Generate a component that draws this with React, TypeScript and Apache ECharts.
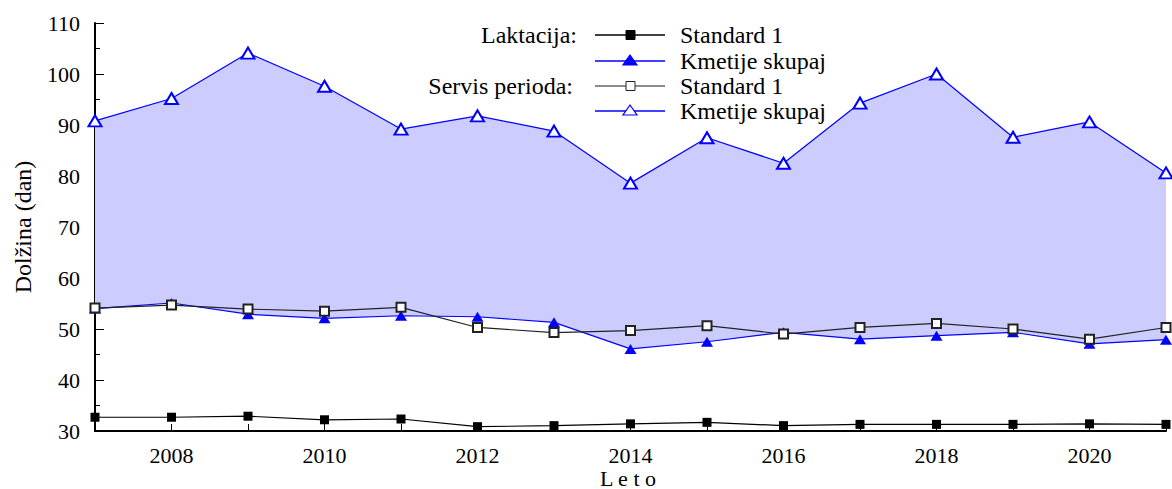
import React, { useEffect, useRef } from "react";
import * as echarts from "echarts";

const years = ["2007","2008","2009","2010","2011","2012","2013","2014","2015","2016","2017","2018","2019","2020","2021"];
const lakStandard = [32.7, 32.7, 32.9, 32.2, 32.35, 30.85, 31.05, 31.4, 31.7, 31.05, 31.3, 31.3, 31.3, 31.4, 31.3];
const lakKmetije = [54.0, 55.1, 52.9, 52.1, 52.6, 52.4, 51.3, 46.1, 47.5, 49.35, 48.0, 48.7, 49.35, 47.1, 47.9];
const serStandard = [54.1, 54.7, 53.9, 53.5, 54.25, 50.3, 49.3, 49.7, 50.65, 49.0, 50.3, 51.1, 50.0, 48.0, 50.3];
const serKmetije = [90.8, 95.2, 104.1, 97.6, 89.2, 91.8, 88.8, 78.6, 87.5, 82.5, 94.3, 100.0, 87.6, 90.6, 80.6];

const FONT = '"Liberation Serif", "Times New Roman", serif';
const BLUE = "#0000ff";

export default function App() {
  const ref = useRef<HTMLDivElement>(null);
  useEffect(() => {
    if (!ref.current) return;
    const chart = echarts.init(ref.current, undefined, { renderer: "svg" });
    const bandDiff = serKmetije.map((v, i) => +(v - lakKmetije[i]).toFixed(3));

    const legendRow = (y: number, color: string, marker: any[], label: string) => [
      { type: "line", shape: { x1: 595, y1: y, x2: 665, y2: y }, style: { stroke: color, lineWidth: 1.5 } },
      ...marker,
      {
        type: "text", x: 680, y,
        style: { text: label, font: `24px ${FONT}`, fill: "#000", textAlign: "left", textVerticalAlign: "middle" },
      },
    ];
    const sq = (y: number, filled: boolean, color: string) => ({
      type: "rect", shape: { x: 626, y: y - 4.5, width: 9, height: 9 },
      style: { fill: filled ? color : "#fff", stroke: color, lineWidth: 1 },
    });
    const tri = (y: number, filled: boolean, w: number, h: number) => ({
      type: "polygon",
      shape: { points: [[630, y - h / 2 - 1], [630 + w / 2, y + h / 2 - 1], [630 - w / 2, y + h / 2 - 1]] },
      style: { fill: filled ? BLUE : "#fff", stroke: BLUE, lineWidth: 1.2 },
    });

    chart.setOption({
      animation: false,
      grid: { left: 95, right: 6, top: 23, bottom: 58, containLabel: false },
      xAxis: {
        type: "category",
        data: years,
        boundaryGap: false,
        axisLine: { show: true, lineStyle: { color: "#000", width: 2 } },
        axisTick: { show: true, inside: true, length: 7, interval: 0, lineStyle: { color: "#000", width: 1 } },
        axisLabel: {
          interval: 0,
          margin: 13,
          fontFamily: FONT,
          fontSize: 22,
          color: "#000",
          formatter: (v: string) => (parseInt(v, 10) % 2 === 0 ? v : ""),
        },
        splitLine: { show: false },
      },
      yAxis: {
        type: "value",
        min: 30,
        max: 110,
        interval: 10,
        axisLine: { show: true, lineStyle: { color: "#000", width: 2 } },
        axisTick: { show: true, inside: true, length: 9, lineStyle: { color: "#000", width: 1 } },
        minorTick: { show: true, splitNumber: 2, length: 5, lineStyle: { color: "#000", width: 1 } },
        axisLabel: { margin: 15, fontFamily: FONT, fontSize: 22, color: "#000" },
        splitLine: { show: false },
      },
      series: [
        {
          name: "bandBase", type: "line", stack: "band", data: lakKmetije,
          symbol: "none", lineStyle: { opacity: 0 }, silent: true, z: 1,
        },
        {
          name: "band", type: "line", stack: "band", data: bandDiff,
          symbol: "none", lineStyle: { opacity: 0 }, areaStyle: { color: "#ccccff", opacity: 1 }, silent: true, z: 1,
        },
        {
          name: "Laktacija: Standard 1", type: "line", data: lakStandard,
          symbol: "rect", symbolSize: 9,
          lineStyle: { color: "#000", width: 1.2 }, itemStyle: { color: "#000" }, z: 3,
        },
        {
          name: "Laktacija: Kmetije skupaj", type: "line", data: lakKmetije,
          symbol: "triangle", symbolSize: [12, 10],
          lineStyle: { color: BLUE, width: 1.2 }, itemStyle: { color: BLUE }, z: 3,
        },
        {
          name: "Servis perioda: Standard 1", type: "line", data: serStandard,
          symbol: "emptyRect", symbolSize: 9, showAllSymbol: true,
          lineStyle: { color: "#222", width: 1.2 }, itemStyle: { color: "#222", borderWidth: 1 }, z: 4,
        },
        {
          name: "Servis perioda: Kmetije skupaj", type: "line", data: serKmetije,
          symbol: "emptyTriangle", symbolSize: [13, 11],
          lineStyle: { color: BLUE, width: 1.2 }, itemStyle: { color: BLUE, borderWidth: 1.2 }, z: 3,
        },
      ],
      graphic: [
        {
          type: "text", x: 23, y: 227, rotation: Math.PI / 2,
          style: { text: "Dolžina (dan)", font: `24px ${FONT}`, fill: "#000", textAlign: "center", textVerticalAlign: "middle" },
        },
        {
          type: "text", x: 628, y: 478,
          style: { text: "L e t o", font: `22px ${FONT}`, fill: "#000", textAlign: "center", textVerticalAlign: "middle" },
        },
        {
          type: "text", x: 577, y: 35,
          style: { text: "Laktacija:", font: `24px ${FONT}`, fill: "#000", textAlign: "right", textVerticalAlign: "middle" },
        },
        {
          type: "text", x: 573, y: 86,
          style: { text: "Servis perioda:", font: `24px ${FONT}`, fill: "#000", textAlign: "right", textVerticalAlign: "middle" },
        },
        ...legendRow(35, "#000", [sq(35, true, "#000")], "Standard 1"),
        ...legendRow(61, BLUE, [tri(61, true, 14, 10)], "Kmetije skupaj"),
        ...legendRow(86, "#666", [sq(86, false, "#222")], "Standard 1"),
        ...legendRow(111, BLUE, [tri(111, false, 14, 10)], "Kmetije skupaj"),
      ],
    });
    return () => chart.dispose();
  }, []);
  return <div ref={ref} style={{ position: "absolute", left: 0, top: 0, width: 1172, height: 489 }} />;
}
